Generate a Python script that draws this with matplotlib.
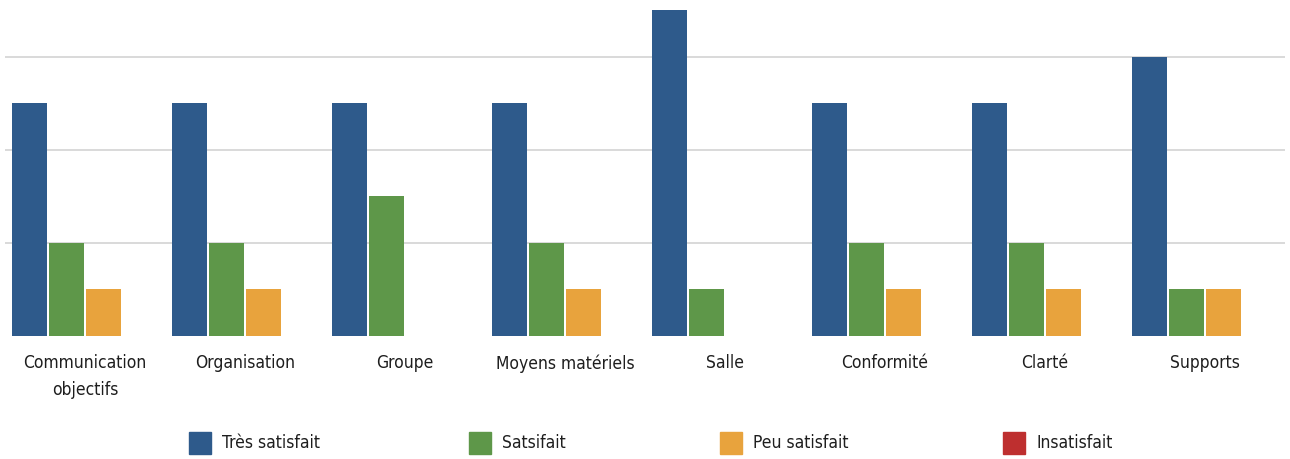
#%% Imports

import numpy as np
import matplotlib.pyplot as plt
from matplotlib.patches import Rectangle

#%% Data

categories = ['Communication\nobjectifs', 'Organisation', 'Groupe', 'Moyens matériels',
              'Salle', 'Conformité', 'Clarté', 'Supports']
series = ['Très satisfait', 'Satsifait', 'Peu satisfait', 'Insatisfait']
tres_satisfait = [5, 5, 5, 5, 7, 5, 5, 6]
satisfait = [2, 2, 3, 2, 1, 2, 2, 1]
peu_satisfait = [1, 1, 0, 1, 0, 1, 1, 1]
insatisfait = [0, 0, 0, 0, 0, 0, 0, 0]

#%% Style

colors = ['#2E5A8B', '#5E9749', '#E8A33D', '#BE2F2F']
pitch = 0.231
bar_width = 0.219
text_color = '#1e1e1e'
fs = 12.5
plt.rcParams['font.family'] = ['DejaVu Sans']
plt.rcParams['font.stretch'] = 'condensed'

#%% Plot

fig = plt.figure(figsize=(12.9, 4.59), dpi=100)
ax = fig.add_axes([5 / 1290, 123 / 459, 1280 / 1290, 335 / 459])

x = np.arange(len(categories))
values = [tres_satisfait, satisfait, peu_satisfait, insatisfait]
for i, (vals, c) in enumerate(zip(values, colors)):
    ax.bar(x + (i - 1.5) * pitch, vals, width=bar_width, color=c, zorder=3)

ax.set_xlim(-0.5, len(categories) - 0.5)
ax.set_ylim(0, 7.2)
ax.set_yticks([2, 4, 6])
ax.set_yticklabels([])
ax.tick_params(axis='y', length=0)
ax.grid(axis='y', color='#d9d9d9', linewidth=1.4, zorder=0)
ax.set_xticks(x)
ax.set_xticklabels(categories, fontsize=fs, color=text_color, linespacing=1.65)
ax.tick_params(axis='x', length=0, pad=13)
for s in ax.spines.values():
    s.set_visible(False)

# legend drawn by hand
leg_x = [189, 469, 720, 1003]
leg_y = 443
for lx, name, c in zip(leg_x, series, colors):
    fig.patches.append(Rectangle((lx / 1290, (459 - leg_y - 11) / 459), 22 / 1290, 22 / 459,
                                 transform=fig.transFigure, color=c))
    fig.text((lx + 33) / 1290, (459 - leg_y) / 459, name, fontsize=fs,
             color=text_color, va='center', ha='left')

plt.savefig('out.png', dpi=100)
